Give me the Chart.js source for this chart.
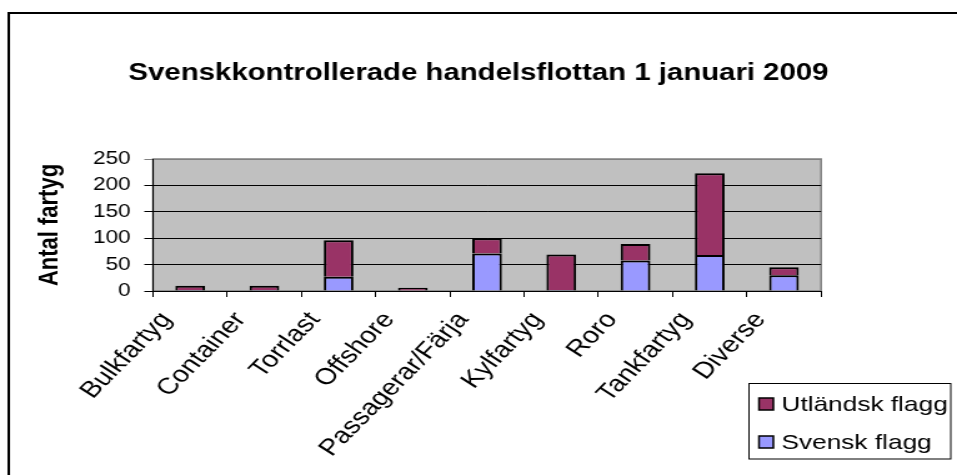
<!DOCTYPE html>
<html>
<head>
<meta charset="utf-8">
<script src="https://cdn.jsdelivr.net/npm/chart.js@4/dist/chart.umd.min.js"></script>
<style>
  html, body { margin: 0; padding: 0; background: #fff; overflow: hidden; }
  /* canvas drawn narrower and stretched wide, like the original picture */
  #chart { display: block; width: 957px !important; height: 475px !important; }
</style>
</head>
<body>
<canvas id="chart" width="766" height="475"></canvas>
<script>
const categories = ['Bulkfartyg', 'Container', 'Torrlast', 'Offshore', 'Passagerar/Färja',
  'Kylfartyg', 'Roro', 'Tankfartyg', 'Diverse'];
const svenskFlagg = [2, 2, 27, 1, 71, 2, 58, 68, 30];
const utlandskFlagg = [8, 8, 69, 5, 29, 67, 31, 155, 15];
const yTickValues = [0, 50, 100, 150, 200, 250];

const FONT = "'Liberation Sans', Arial, sans-serif";

// gray plot area, outer frame and the boxed legend
const decorations = {
  id: 'decorations',
  beforeDraw(chart) {
    const ctx = chart.ctx;
    const a = chart.chartArea;
    ctx.save();
    ctx.fillStyle = '#fff';
    ctx.fillRect(0, 0, chart.width, chart.height);
    ctx.fillStyle = '#c0c0c0';
    ctx.fillRect(a.left, a.top, a.right - a.left, a.bottom - a.top);
    ctx.strokeStyle = '#808080';
    ctx.lineWidth = 1.5;
    ctx.strokeRect(a.left, a.top, a.right - a.left, a.bottom - a.top);
    // outer frame (right and bottom edges fall outside the picture)
    ctx.strokeStyle = '#000';
    ctx.lineWidth = 2;
    ctx.beginPath();
    ctx.moveTo(7, chart.height + 5);
    ctx.lineTo(7, 13);
    ctx.lineTo(chart.width + 5, 13);
    ctx.stroke();
    ctx.restore();
  },
  afterDraw(chart) {
    const ctx = chart.ctx;
    ctx.save();
    ctx.strokeStyle = '#000';
    ctx.lineWidth = 1;
    ctx.fillStyle = '#fff';
    ctx.fillRect(599.5, 383.5, 161.5, 75.5);
    ctx.strokeRect(599.5, 383.5, 161.5, 75.5);
    const items = chart.data.datasets.slice().reverse();
    ctx.font = '21px ' + FONT;
    ctx.textBaseline = 'middle';
    items.forEach((ds, i) => {
      const cy = 404 + i * 38;
      ctx.fillStyle = ds.backgroundColor;
      ctx.fillRect(607.5, cy - 6, 11.5, 12);
      ctx.lineWidth = 1.5;
      ctx.strokeRect(607.5, cy - 6, 11.5, 12);
      ctx.fillStyle = '#000';
      ctx.fillText(ds.label, 625.5, cy + 1);
    });
    ctx.restore();
  }
};

new Chart(document.getElementById('chart'), {
  type: 'bar',
  data: {
    labels: categories,
    datasets: [
      {
        label: 'Svensk flagg',
        data: svenskFlagg,
        backgroundColor: '#9999ff',
        borderColor: '#000',
        borderWidth: 2,
        barPercentage: 0.4,
        categoryPercentage: 1.0
      },
      {
        label: 'Utländsk flagg',
        data: utlandskFlagg,
        backgroundColor: '#993366',
        borderColor: '#000',
        borderWidth: 2,
        barPercentage: 0.4,
        categoryPercentage: 1.0
      }
    ]
  },
  options: {
    responsive: false,
    animation: false,
    devicePixelRatio: 1,
    layout: { padding: 0 },
    plugins: {
      legend: { display: false },
      tooltip: { enabled: false },
      title: {
        display: true,
        text: 'Svenskkontrollerade handelsflottan 1 januari 2009',
        color: '#000',
        font: { family: FONT, size: 23.5, weight: 'bold' },
        padding: { top: 59.9, bottom: 70.9 }
      }
    },
    scales: {
      x: {
        stacked: true,
        afterFit(scale) { scale.height = 184; },
        grid: { offset: true, drawOnChartArea: false, drawTicks: true, tickLength: 6, color: '#000' },
        border: { color: '#000', width: 1 },
        ticks: {
          color: '#000',
          font: { family: FONT, size: 23 },
          minRotation: 51.3,
          maxRotation: 51.3,
          autoSkip: false,
          labelOffset: -19,
          padding: 10
        }
      },
      y: {
        stacked: true,
        min: 0,
        max: 250,
        afterFit(scale) { scale.width = 122.5; },
        afterBuildTicks(scale) { scale.ticks = yTickValues.map(v => ({ value: v })); },
        grid: {
          color: (c) => (c.tick && c.tick.value === 250 ? '#808080' : '#000'),
          lineWidth: 1,
          drawTicks: true,
          tickLength: 7
        },
        border: { color: '#000', width: 1 },
        ticks: {
          color: '#000',
          font: { family: FONT, size: 18 },
          padding: 11
        },
        title: {
          display: true,
          text: 'Antal fartyg',
          color: '#000',
          font: { family: FONT, size: 22, weight: 'bold' },
          padding: { top: 26.8, bottom: 0 }
        }
      },
      // empty right-hand box that keeps the plot clear of the legend
      spacer: {
        position: 'right',
        display: true,
        afterFit(scale) { scale.width = 108.8; },
        grid: { display: false },
        border: { display: false },
        ticks: { display: false }
      }
    }
  },
  plugins: [decorations]
});
</script>
</body>
</html>
